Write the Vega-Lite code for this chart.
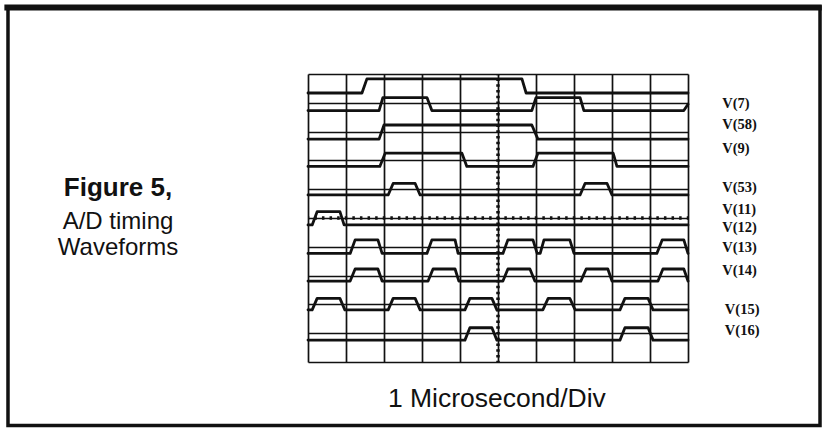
{
  "$schema": "https://vega.github.io/schema/vega-lite/v6.json",
  "width": 380,
  "height": 288,
  "autosize": {"type": "none"},
  "padding": {"left": 308, "top": 74, "right": 135, "bottom": 66},
  "background": "white",
  "config": {"view": {"stroke": null}},
  "datasets": {
    "traces": [
      {"s":"V(7)","t":0,"y":9.34},{"s":"V(7)","t":1.42,"y":9.34},{"s":"V(7)","t":1.55,"y":9.83},{"s":"V(7)","t":5.63,"y":9.83},{"s":"V(7)","t":5.74,"y":9.34},{"s":"V(7)","t":10,"y":9.34},
      {"s":"V(58)","t":0,"y":8.73},{"s":"V(58)","t":1.87,"y":8.73},{"s":"V(58)","t":1.97,"y":9.18},{"s":"V(58)","t":3.13,"y":9.18},{"s":"V(58)","t":3.26,"y":8.73},{"s":"V(58)","t":5.89,"y":8.73},{"s":"V(58)","t":6.0,"y":9.18},{"s":"V(58)","t":7.16,"y":9.18},{"s":"V(58)","t":7.26,"y":8.73},{"s":"V(58)","t":9.89,"y":8.73},{"s":"V(58)","t":10,"y":8.95},
      {"s":"V(9)","t":0,"y":7.74},{"s":"V(9)","t":1.87,"y":7.74},{"s":"V(9)","t":2.0,"y":8.23},{"s":"V(9)","t":5.89,"y":8.23},{"s":"V(9)","t":6.05,"y":7.74},{"s":"V(9)","t":10,"y":7.74},
      {"s":"V(53)","t":0,"y":6.79},{"s":"V(53)","t":1.89,"y":6.79},{"s":"V(53)","t":2.03,"y":7.25},{"s":"V(53)","t":4.05,"y":7.25},{"s":"V(53)","t":4.18,"y":6.79},{"s":"V(53)","t":5.92,"y":6.79},{"s":"V(53)","t":6.05,"y":7.25},{"s":"V(53)","t":8.03,"y":7.25},{"s":"V(53)","t":8.13,"y":6.79},{"s":"V(53)","t":10,"y":6.79},
      {"s":"V(11)","t":0,"y":5.8},{"s":"V(11)","t":2.11,"y":5.8},{"s":"V(11)","t":2.24,"y":6.2},{"s":"V(11)","t":2.82,"y":6.2},{"s":"V(11)","t":2.95,"y":5.8},{"s":"V(11)","t":7.16,"y":5.8},{"s":"V(11)","t":7.29,"y":6.2},{"s":"V(11)","t":7.87,"y":6.2},{"s":"V(11)","t":8.0,"y":5.8},{"s":"V(11)","t":10,"y":5.8},
      {"s":"V(12)","t":0,"y":4.76},{"s":"V(12)","t":0.11,"y":4.76},{"s":"V(12)","t":0.24,"y":5.22},{"s":"V(12)","t":0.84,"y":5.22},{"s":"V(12)","t":0.95,"y":4.76},{"s":"V(12)","t":10,"y":4.76},
      {"s":"V(13)","t":0,"y":3.77},{"s":"V(13)","t":1.11,"y":3.77},{"s":"V(13)","t":1.24,"y":4.24},{"s":"V(13)","t":1.84,"y":4.24},{"s":"V(13)","t":1.95,"y":3.77},{"s":"V(13)","t":3.13,"y":3.77},{"s":"V(13)","t":3.26,"y":4.24},{"s":"V(13)","t":3.87,"y":4.24},{"s":"V(13)","t":3.95,"y":3.77},{"s":"V(13)","t":5.13,"y":3.77},{"s":"V(13)","t":5.26,"y":4.24},{"s":"V(13)","t":5.92,"y":4.24},{"s":"V(13)","t":6.03,"y":3.77},{"s":"V(13)","t":6.11,"y":3.77},{"s":"V(13)","t":6.21,"y":4.24},{"s":"V(13)","t":6.89,"y":4.24},{"s":"V(13)","t":7.0,"y":3.77},{"s":"V(13)","t":9.18,"y":3.77},{"s":"V(13)","t":9.32,"y":4.24},{"s":"V(13)","t":9.89,"y":4.24},{"s":"V(13)","t":10,"y":3.77},
      {"s":"V(14)","t":0,"y":2.81},{"s":"V(14)","t":1.11,"y":2.81},{"s":"V(14)","t":1.24,"y":3.23},{"s":"V(14)","t":1.84,"y":3.23},{"s":"V(14)","t":1.95,"y":2.81},{"s":"V(14)","t":3.16,"y":2.81},{"s":"V(14)","t":3.29,"y":3.23},{"s":"V(14)","t":3.87,"y":3.23},{"s":"V(14)","t":3.97,"y":2.81},{"s":"V(14)","t":5.13,"y":2.81},{"s":"V(14)","t":5.26,"y":3.23},{"s":"V(14)","t":5.84,"y":3.23},{"s":"V(14)","t":5.97,"y":2.81},{"s":"V(14)","t":7.18,"y":2.81},{"s":"V(14)","t":7.32,"y":3.23},{"s":"V(14)","t":7.89,"y":3.23},{"s":"V(14)","t":8.0,"y":2.81},{"s":"V(14)","t":9.21,"y":2.81},{"s":"V(14)","t":9.34,"y":3.23},{"s":"V(14)","t":9.89,"y":3.23},{"s":"V(14)","t":10,"y":2.81},
      {"s":"V(15)","t":0,"y":1.81},{"s":"V(15)","t":0.11,"y":1.81},{"s":"V(15)","t":0.24,"y":2.21},{"s":"V(15)","t":0.84,"y":2.21},{"s":"V(15)","t":0.97,"y":1.81},{"s":"V(15)","t":2.11,"y":1.81},{"s":"V(15)","t":2.24,"y":2.21},{"s":"V(15)","t":2.82,"y":2.21},{"s":"V(15)","t":2.95,"y":1.81},{"s":"V(15)","t":4.13,"y":1.81},{"s":"V(15)","t":4.26,"y":2.21},{"s":"V(15)","t":4.84,"y":2.21},{"s":"V(15)","t":4.97,"y":1.81},{"s":"V(15)","t":6.18,"y":1.81},{"s":"V(15)","t":6.32,"y":2.21},{"s":"V(15)","t":6.89,"y":2.21},{"s":"V(15)","t":7.03,"y":1.81},{"s":"V(15)","t":8.21,"y":1.81},{"s":"V(15)","t":8.34,"y":2.21},{"s":"V(15)","t":8.95,"y":2.21},{"s":"V(15)","t":9.08,"y":1.81},{"s":"V(15)","t":10,"y":1.81},
      {"s":"V(16)","t":0,"y":0.76},{"s":"V(16)","t":4.13,"y":0.76},{"s":"V(16)","t":4.26,"y":1.19},{"s":"V(16)","t":4.84,"y":1.19},{"s":"V(16)","t":4.97,"y":0.76},{"s":"V(16)","t":8.21,"y":0.76},{"s":"V(16)","t":8.34,"y":1.19},{"s":"V(16)","t":8.95,"y":1.19},{"s":"V(16)","t":9.08,"y":0.76},{"s":"V(16)","t":10,"y":0.76}
    ],
    "labels": [
      {"label":"V(7)","t":10.9,"y":8.95},
      {"label":"V(58)","t":10.9,"y":8.22},
      {"label":"V(9)","t":10.9,"y":7.38},
      {"label":"V(53)","t":10.9,"y":6.04},
      {"label":"V(11)","t":10.9,"y":5.28},
      {"label":"V(12)","t":10.9,"y":4.65},
      {"label":"V(13)","t":10.9,"y":3.96},
      {"label":"V(14)","t":10.9,"y":3.16},
      {"label":"V(15)","t":10.97,"y":1.81},
      {"label":"V(16)","t":10.97,"y":1.08}
    ]
  },
  "encoding": {
    "x": {"field": "t", "type": "quantitative", "scale": {"domain": [0, 10], "nice": false, "zero": false},
      "axis": {"values": [0,1,2,3,4,5,6,7,8,9,10], "grid": true, "labels": false, "ticks": false, "domain": false, "title": null, "gridColor": "#111", "gridOpacity": 1, "gridWidth": 1.7}},
    "y": {"field": "y", "type": "quantitative", "scale": {"domain": [0, 10], "nice": false, "zero": false},
      "axis": {"values": [0,1,2,3,4,5,6,7,8,9,10], "grid": true, "labels": false, "ticks": false, "domain": false, "title": null, "gridColor": "#111", "gridOpacity": 1, "gridWidth": 1.7}}
  },
  "layer": [
    {
      "data": {"values": [{"t": 0, "t2": 10, "y": 5, "y2": 5}]},
      "mark": {"type": "rule", "color": "#111", "strokeWidth": 3.5, "strokeDash": [2.5, 5.1], "strokeDashOffset": 1.25},
      "encoding": {"x2": {"field": "t2"}, "y2": {"field": "y2"}}
    },
    {
      "data": {"values": [{"t": 5, "t2": 5, "y": 0, "y2": 10}]},
      "mark": {"type": "rule", "color": "#111", "strokeWidth": 3.5, "strokeDash": [2.5, 3.26], "strokeDashOffset": 1.25},
      "encoding": {"x2": {"field": "t2"}, "y2": {"field": "y2"}}
    },
    {
      "data": {"name": "traces"},
      "mark": {"type": "line", "color": "#111", "strokeWidth": 2.8, "strokeJoin": "round", "strokeCap": "round", "clip": false},
      "encoding": {"detail": {"field": "s"}}
    },
    {
      "data": {"name": "labels"},
      "mark": {"type": "text", "align": "left", "baseline": "middle", "font": "Liberation Serif", "fontWeight": "bold", "fontSize": 14.5, "color": "#111"},
      "encoding": {"text": {"field": "label"}}
    },
    {
      "data": {"values": [{"txt": "Figure 5,", "t": -5.0, "y": 6.04}]},
      "mark": {"type": "text", "align": "center", "baseline": "middle", "font": "Liberation Sans", "fontWeight": "bold", "fontSize": 26, "color": "#111"},
      "encoding": {"text": {"field": "txt"}}
    },
    {
      "data": {"values": [{"txt": "A/D timing", "t": -5.0, "y": 4.86}, {"txt": "Waveforms", "t": -5.0, "y": 3.96}]},
      "mark": {"type": "text", "align": "center", "baseline": "middle", "font": "Liberation Sans", "fontSize": 24, "color": "#111"},
      "encoding": {"text": {"field": "txt"}}
    },
    {
      "data": {"values": [{"txt": "1 Microsecond/Div", "t": 4.97, "y": -1.3}]},
      "mark": {"type": "text", "align": "center", "baseline": "middle", "font": "Liberation Sans", "fontSize": 26.5, "color": "#111"},
      "encoding": {"text": {"field": "txt"}}
    },
    {
      "data": {"values": [{"t": -7.895, "t2": 13.474, "y": -2.205, "y2": 12.326}]},
      "mark": {"type": "rect", "fill": null, "stroke": "#111", "strokeWidth": 3.5},
      "encoding": {"x2": {"field": "t2"}, "y2": {"field": "y2"}}
    },
    {
      "data": {"values": [{"t": -7.99, "t2": 13.52, "y": 12.31, "y2": 12.31}]},
      "mark": {"type": "rule", "color": "#111", "strokeWidth": 6},
      "encoding": {"x2": {"field": "t2"}, "y2": {"field": "y2"}}
    }
  ]
}
